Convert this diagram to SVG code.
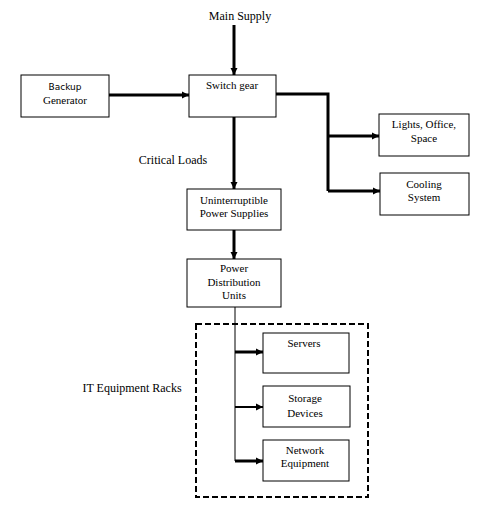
<svg xmlns="http://www.w3.org/2000/svg" width="481" height="521" viewBox="0 0 481 521">
<style>
.box{fill:#fff;stroke:#000;stroke-width:1}
text{font-family:'Liberation Serif','Times New Roman',serif;font-size:11px;fill:#000;text-anchor:middle}
.lbl{font-size:12px}
.c{fill:none;stroke:#000;stroke-width:3}
.t{fill:none;stroke:#000;stroke-width:1}
</style>
<defs>
<marker id="ah" markerWidth="8" markerHeight="8" refX="7" refY="4" orient="auto" markerUnits="userSpaceOnUse">
<path d="M0,0.5 L7,4 L0,7.5 z" fill="#000"/>
</marker>
</defs>
<rect width="481" height="521" fill="#fff"/>
<g id="connectors">
<line class="c" x1="234" y1="25" x2="234" y2="75" marker-end="url(#ah)"/>
<line class="c" x1="109" y1="95" x2="189" y2="95" marker-end="url(#ah)"/>
<polyline class="c" points="276,94 328,94 328,191"/>
<line class="c" x1="328" y1="136" x2="379" y2="136" marker-end="url(#ah)"/>
<line class="c" x1="328" y1="191" x2="380" y2="191" marker-end="url(#ah)"/>
<line class="c" x1="234" y1="117" x2="234" y2="189" marker-end="url(#ah)"/>
<line class="c" x1="234" y1="230" x2="234" y2="259" marker-end="url(#ah)"/>
<line class="t" x1="235" y1="307" x2="235" y2="461"/>
<line class="c" x1="235" y1="352" x2="263" y2="352" marker-end="url(#ah)"/>
<line x1="235" y1="407" x2="263" y2="407" stroke="#000" stroke-width="2" marker-end="url(#ah)"/>
<line class="c" x1="235" y1="461" x2="263" y2="461" marker-end="url(#ah)"/>
</g>
<g font-family="'Liberation Serif','Times New Roman',serif">
<g id="main-supply"><text class="lbl" x="240" y="20">Main Supply</text></g>
<g id="backup-generator">
<rect class="box" x="21" y="75" width="88" height="42"/>
<text x="65" y="90" style="font-family:'DejaVu Sans',sans-serif;font-size:9px">Backup</text>
<text x="65" y="104">Generator</text>
</g>
<g id="switch-gear">
<rect class="box" x="189" y="75" width="87" height="42"/>
<text x="232" y="89">Switch gear</text>
</g>
<g id="lights">
<rect class="box" x="379" y="114" width="90" height="42"/>
<text x="424" y="128">Lights, Office,</text>
<text x="424" y="142">Space</text>
</g>
<g id="cooling">
<rect class="box" x="380" y="173" width="89" height="42"/>
<text x="424" y="188">Cooling</text>
<text x="424" y="201">System</text>
</g>
<g id="critical-loads"><text class="lbl" x="173" y="164">Critical Loads</text></g>
<g id="ups">
<rect class="box" x="187" y="189" width="94" height="41"/>
<text x="234" y="204">Uninterruptible</text>
<text x="234" y="217">Power Supplies</text>
</g>
<g id="pdu">
<rect class="box" x="187" y="259" width="94" height="48"/>
<text x="234" y="272">Power</text>
<text x="234" y="286">Distribution</text>
<text x="234" y="299">Units</text>
</g>
<g id="it-racks">
<rect x="196" y="324" width="172" height="173" fill="none" stroke="#000" stroke-width="2" stroke-dasharray="6,3"/>
<text class="lbl" x="132" y="392">IT Equipment Racks</text>
</g>
<g id="servers">
<rect class="box" x="263" y="333" width="86" height="40"/>
<text x="304" y="347">Servers</text>
</g>
<g id="storage">
<rect class="box" x="263" y="386" width="87" height="41"/>
<text x="305" y="402">Storage</text>
<text x="305" y="417">Devices</text>
</g>
<g id="network">
<rect class="box" x="263" y="440" width="86" height="41"/>
<text x="305" y="454">Network</text>
<text x="305" y="467">Equipment</text>
</g>
</g>
</svg>
